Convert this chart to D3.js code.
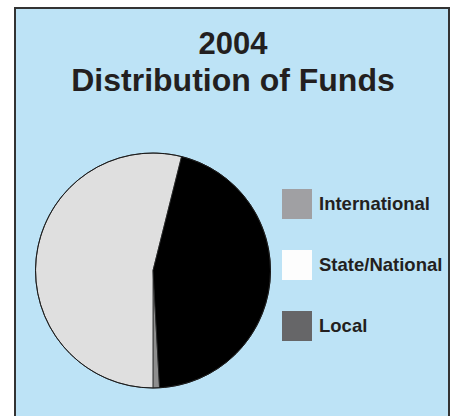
<!DOCTYPE html>
<html lang="en">
<head>
<meta charset="UTF-8">
<title>2004 Distribution of Funds</title>
<script src="https://d3js.org/d3.v7.min.js"></script>
<style>
  body { margin: 0; background: #fff; }
</style>
</head>
<body>
<div id="chart"></div>
<script>
// data
const categories = ["International", "State/National", "Local"];
const values = [0.9, 53.9, 45.2];          // percent
const legendColors = ["#a0a0a3", "#fdfdfd", "#666668"];
const sliceColors = ["#8e8e8e", "#dfdfdf", "#000000"];
const titleLines = ["2004", "Distribution of Funds"];

const width = 455, height = 416;

const svg = d3.select("#chart").append("svg")
    .attr("width", width)
    .attr("height", height)
    .attr("font-family", "Liberation Sans, Arial, sans-serif");

// framed blue panel
svg.append("rect")
    .attr("x", 15).attr("y", 8)
    .attr("width", 434).attr("height", 430)
    .attr("fill", "#bde3f6")
    .attr("stroke", "#333")
    .attr("stroke-width", 2);

// title
svg.append("g")
    .selectAll("text")
    .data(titleLines)
    .join("text")
    .attr("x", 233)
    .attr("y", (d, i) => 54 + i * 37)
    .attr("text-anchor", "middle")
    .attr("font-weight", "bold")
    .attr("font-size", (d, i) => i ? 32 : 31)
    .attr("fill", "#231f20")
    .text(d => d);

// pie
const radius = 117.5;
const start = 176.8 * Math.PI / 180;
const pie = d3.pie()
    .sort(null)
    .startAngle(start)
    .endAngle(start + 2 * Math.PI);

const arc = d3.arc().innerRadius(0).outerRadius(radius);

const pieG = svg.append("g").attr("transform", "translate(153,270.5)");

pieG.selectAll("path")
    .data(pie(values))
    .join("path")
    .attr("d", arc)
    .attr("fill", (d, i) => sliceColors[i])
    .attr("stroke", "#2a2a2a")
    .attr("stroke-width", 0.8);

pieG.append("circle")
    .attr("r", radius)
    .attr("fill", "none")
    .attr("stroke", "#1a1a1a")
    .attr("stroke-width", 1);

// legend
const legend = svg.append("g")
    .selectAll("g")
    .data(categories)
    .join("g")
    .attr("transform", (d, i) => `translate(282,${189 + i * 61})`);

legend.append("rect")
    .attr("width", 30).attr("height", 30)
    .attr("fill", (d, i) => legendColors[i]);

legend.append("text")
    .attr("x", 37)
    .attr("y", 20.5)
    .attr("font-weight", "bold")
    .attr("font-size", 18.5)
    .attr("fill", "#231f20")
    .text(d => d);
</script>
</body>
</html>
